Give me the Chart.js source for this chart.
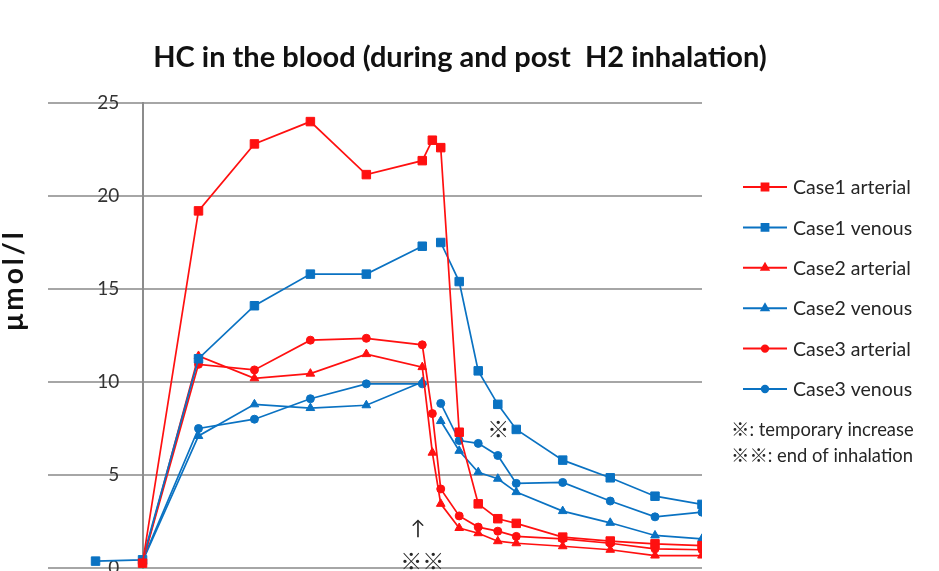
<!DOCTYPE html>
<html>
<head>
<meta charset="utf-8">
<script src="https://cdn.jsdelivr.net/npm/chart.js@4"></script>
<style>
  html, body { margin: 0; padding: 0; background: #fff; overflow: hidden; }
  #wrap { position: relative; width: 939px; height: 620px; }
</style>
</head>
<body>
<div id="wrap"><canvas id="hcChart"></canvas></div>
<script>
// sampling times (min), estimated from point positions
const times = [-8.4, 0, 10, 20, 30, 40, 50, 51.8, 53.3, 56.6, 60, 63.5, 66.8, 75.1, 83.6, 91.6, 100];

const case1Arterial = [null, 0.26, 19.2, 22.8, 24.0, 21.15, 21.9, 23.0, 22.6, 7.3, 3.45, 2.65, 2.4, 1.66, 1.45, 1.3, 1.2];
const case1Venous   = [0.37, 0.44, 11.25, 14.1, 15.8, 15.8, 17.3, null, 17.5, 15.4, 10.6, 8.8, 7.45, 5.8, 4.85, 3.86, 3.42];
const case2Arterial = [null, 0.3, 11.4, 10.2, 10.45, 11.5, 10.8, 6.2, 3.45, 2.15, 1.87, 1.44, 1.33, 1.17, 0.98, 0.67, 0.67];
const case2Venous   = [null, 0.35, 7.1, 8.8, 8.6, 8.75, 10.0, null, 7.9, 6.3, 5.15, 4.8, 4.08, 3.06, 2.43, 1.75, 1.57];
const case3Arterial = [null, 0.3, 10.95, 10.65, 12.25, 12.35, 12.0, 8.3, 4.25, 2.8, 2.2, 1.98, 1.7, 1.57, 1.33, 1.03, 0.98];
const case3Venous   = [null, 0.4, 7.5, 8.0, 9.1, 9.9, 9.9, null, 8.85, 6.85, 6.7, 6.05, 4.55, 4.6, 3.6, 2.75, 3.0];

const seriesNames = ['Case1 arterial', 'Case1 venous', 'Case2 arterial', 'Case2 venous', 'Case3 arterial', 'Case3 venous'];
const yTicks = [0, 5, 10, 15, 20, 25];

const RED = '#ff1010';
const BLUE = '#0a72c2';
const FONT = "Lato, 'Noto Sans CJK JP', sans-serif";

function makeSet(label, values, color, style, radius) {
    return {
        label: label,
        data: values.map((v, i) => ({ x: times[i], y: v })),
        borderColor: color,
        backgroundColor: color,
        borderWidth: 1.7,
        pointStyle: style,
        pointRadius: radius,
        pointBorderWidth: 1,
        spanGaps: false,
        tension: 0
    };
}

const datasets = [
    makeSet(seriesNames[0], case1Arterial, RED, 'rect', 6),
    makeSet(seriesNames[1], case1Venous, BLUE, 'rect', 6),
    makeSet(seriesNames[2], case2Arterial, RED, 'triangle', 5),
    makeSet(seriesNames[3], case2Venous, BLUE, 'triangle', 5),
    makeSet(seriesNames[4], case3Arterial, RED, 'circle', 4),
    makeSet(seriesNames[5], case3Venous, BLUE, 'circle', 4)
];

// title, axis title, legend and notes
const extras = {
    id: 'extras',
    afterDraw(chart) {
        const ctx = chart.ctx;
        const xs = chart.scales.x, ys = chart.scales.y;
        ctx.save();
        ctx.fillStyle = '#111111';
        ctx.textAlign = 'center';
        ctx.textBaseline = 'middle';
        ctx.font = 'bold 29px ' + FONT;
        ctx.fillText('HC in the blood (during and post  H2 inhalation)', 460, 58);

        ctx.save();
        ctx.translate(14, 280);
        ctx.rotate(-Math.PI / 2);
        ctx.font = 'bold 28px ' + FONT;
        ctx.letterSpacing = '3px';
        ctx.fillText('\u03bcmol/l', 0, 0);
        ctx.restore();

        // legend
        ctx.textAlign = 'left';
        ctx.font = '19.5px ' + FONT;
        chart.data.datasets.forEach((ds, i) => {
            const y = 187 + i * 40.4;
            ctx.strokeStyle = ds.borderColor;
            ctx.lineWidth = 2;
            ctx.beginPath();
            ctx.moveTo(743, y);
            ctx.lineTo(787, y);
            ctx.stroke();
            ctx.fillStyle = ds.borderColor;
            Chart.helpers.drawPoint(ctx, {
                pointStyle: ds.pointStyle,
                radius: ds.pointRadius * 0.8,
                rotation: 0,
                borderWidth: 1
            }, 765, y);
            ctx.fillStyle = '#262626';
            ctx.fillText(ds.label, 793, y + 1);
        });
        ctx.font = '18.4px ' + FONT;
        ctx.fillText('\u203b: temporary increase', 731, 430);
        ctx.fillText('\u203b\u203b: end of inhalation', 731, 456);

        // markers inside the plot
        ctx.textAlign = 'center';
        ctx.font = '22px ' + FONT;
        ctx.fillText('\u203b', xs.getPixelForValue(63.6), ys.getPixelForValue(7.45));
        ctx.font = '20px ' + FONT;
        ctx.fillText('\u2191', xs.getPixelForValue(49.2), ys.getPixelForValue(2.1));
        ctx.font = '22px ' + FONT;
        ctx.fillText('\u203b\u203b', xs.getPixelForValue(50), ys.getPixelForValue(0.35));
        ctx.restore();
    }
};

new Chart('hcChart', {
    type: 'line',
    data: { datasets: datasets },
    options: {
        responsive: true,
        maintainAspectRatio: false,
        animation: false,
        layout: { padding: { left: 48, right: 237, top: 103, bottom: 52 } },
        plugins: {
            legend: { display: false },
            title: { display: false },
            tooltip: { enabled: false }
        },
        scales: {
            x: {
                type: 'linear',
                min: -16.9,
                max: 100,
                display: false
            },
            // labels + grid, placed a little left of the axis line
            y: {
                type: 'linear',
                position: { x: -4.15 },
                min: 0,
                max: 25,
                afterBuildTicks: (scale) => { scale.ticks = yTicks.map(v => ({ value: v })); },
                ticks: {
                    color: '#333333',
                    font: { family: FONT, size: 19 }
                },
                grid: { color: '#a6a6a6', lineWidth: 2, drawTicks: false },
                border: { display: false }
            },
            // the vertical axis line at time 0
            yLine: {
                type: 'linear',
                position: { x: 0 },
                min: 0,
                max: 25,
                ticks: { display: false },
                grid: { display: false, drawTicks: false },
                border: { color: '#8c8c8c', width: 2 }
            }
        }
    },
    plugins: [extras]
});
</script>
</body>
</html>
